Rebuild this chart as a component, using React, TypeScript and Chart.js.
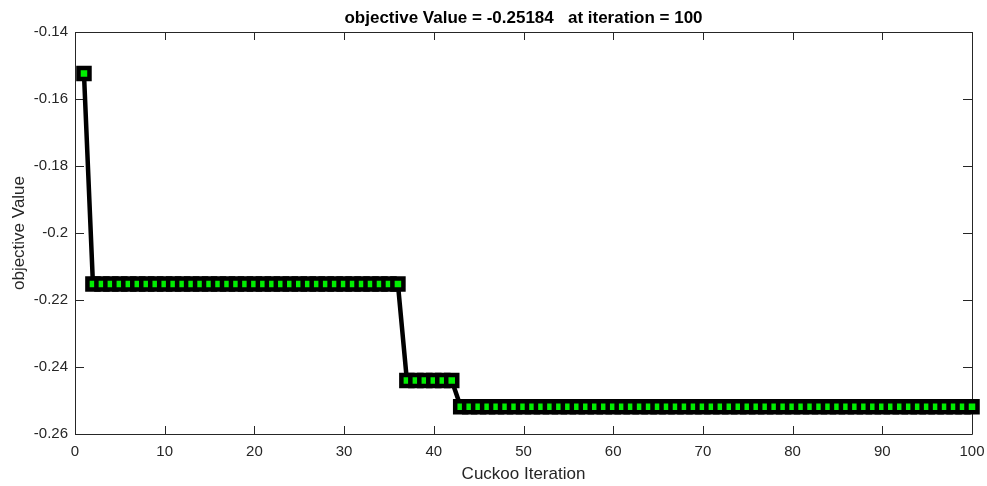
import React, { useEffect, useRef } from "react";
import { Chart, registerables } from "chart.js";

Chart.register(...registerables);

const iterations = [
  1, 2, 3, 4, 5, 6, 7, 8, 9, 10,
  11, 12, 13, 14, 15, 16, 17, 18, 19, 20,
  21, 22, 23, 24, 25, 26, 27, 28, 29, 30,
  31, 32, 33, 34, 35, 36, 37, 38, 39, 40,
  41, 42, 43, 44, 45, 46, 47, 48, 49, 50,
  51, 52, 53, 54, 55, 56, 57, 58, 59, 60,
  61, 62, 63, 64, 65, 66, 67, 68, 69, 70,
  71, 72, 73, 74, 75, 76, 77, 78, 79, 80,
  81, 82, 83, 84, 85, 86, 87, 88, 89, 90,
  91, 92, 93, 94, 95, 96, 97, 98, 99, 100,
];

const objectiveValues = [
  -0.1524, -0.2152, -0.2152, -0.2152, -0.2152, -0.2152, -0.2152, -0.2152, -0.2152, -0.2152,
  -0.2152, -0.2152, -0.2152, -0.2152, -0.2152, -0.2152, -0.2152, -0.2152, -0.2152, -0.2152,
  -0.2152, -0.2152, -0.2152, -0.2152, -0.2152, -0.2152, -0.2152, -0.2152, -0.2152, -0.2152,
  -0.2152, -0.2152, -0.2152, -0.2152, -0.2152, -0.2152, -0.244, -0.244, -0.244, -0.244,
  -0.244, -0.244, -0.25184, -0.25184, -0.25184, -0.25184, -0.25184, -0.25184, -0.25184, -0.25184,
  -0.25184, -0.25184, -0.25184, -0.25184, -0.25184, -0.25184, -0.25184, -0.25184, -0.25184, -0.25184,
  -0.25184, -0.25184, -0.25184, -0.25184, -0.25184, -0.25184, -0.25184, -0.25184, -0.25184, -0.25184,
  -0.25184, -0.25184, -0.25184, -0.25184, -0.25184, -0.25184, -0.25184, -0.25184, -0.25184, -0.25184,
  -0.25184, -0.25184, -0.25184, -0.25184, -0.25184, -0.25184, -0.25184, -0.25184, -0.25184, -0.25184,
  -0.25184, -0.25184, -0.25184, -0.25184, -0.25184, -0.25184, -0.25184, -0.25184, -0.25184, -0.25184,
];

const xTicks = [0, 10, 20, 30, 40, 50, 60, 70, 80, 90, 100];
const yTicks = [-0.26, -0.24, -0.22, -0.2, -0.18, -0.16, -0.14];

const titleText = "objective Value = -0.25184   at iteration = 100";
const xTitle = "Cuckoo Iteration";
const yTitle = "objective Value";

const FONT = "'Liberation Sans', Arial, Helvetica, sans-serif";
const AXIS_COLOR = "#262626";

const boxPlugin = {
  id: "matlabBox",
  beforeDatasetsDraw(chart: any) {
    const { ctx, chartArea, scales } = chart;
    const { left, right, top, bottom } = chartArea;
    ctx.save();
    ctx.strokeStyle = AXIS_COLOR;
    ctx.lineWidth = 1;
    ctx.beginPath();
    ctx.rect(Math.round(left) + 0.5, Math.round(top) + 0.5, Math.round(right - left), Math.round(bottom - top));
    ctx.stroke();
    ctx.beginPath();
    for (const v of xTicks) {
      const x = Math.round(scales.x.getPixelForValue(v)) + 0.5;
      ctx.moveTo(x, bottom);
      ctx.lineTo(x, bottom - 8);
      ctx.moveTo(x, top);
      ctx.lineTo(x, top + 8);
    }
    for (const v of yTicks) {
      const y = Math.round(scales.y.getPixelForValue(v)) + 0.5;
      ctx.moveTo(left, y);
      ctx.lineTo(left + 9, y);
      ctx.moveTo(right, y);
      ctx.lineTo(right - 9, y);
    }
    ctx.stroke();
    ctx.restore();
  },
  afterDraw(chart: any) {
    const { ctx, chartArea } = chart;
    ctx.save();
    ctx.fillStyle = "#000";
    ctx.font = `bold 17px ${FONT}`;
    ctx.textAlign = "center";
    ctx.textBaseline = "middle";
    ctx.fillText(titleText, (chartArea.left + chartArea.right) / 2, 18);
    ctx.restore();
  },
};

export default function App() {
  const canvasRef = useRef<HTMLCanvasElement | null>(null);

  useEffect(() => {
    document.body.style.margin = "0";
    const canvas = canvasRef.current;
    if (!canvas) return;
    const chart = new Chart(canvas, {
      type: "line",
      data: {
        datasets: [
          {
            data: iterations.map((x, i) => ({ x, y: objectiveValues[i] })),
            borderColor: "#000",
            borderWidth: 4.5,
            tension: 0,
            pointStyle: "rect",
            pointRadius: 7.8,
            pointHoverRadius: 7.8,
            pointBorderWidth: 4.5,
            pointBorderColor: "#000",
            pointBackgroundColor: "#00ee00",
            clip: false,
          } as any,
        ],
      },
      options: {
        responsive: false,
        animation: false,
        events: [],
        layout: { padding: { top: 32, right: 15, left: 0, bottom: 0 } },
        plugins: {
          legend: { display: false },
          title: { display: false },
          tooltip: { enabled: false },
        },
        scales: {
          x: {
            type: "linear",
            min: 0,
            max: 100,
            afterFit: (s: any) => {
              s.height = 52;
              s.paddingLeft = 0;
              s.paddingRight = 0;
            },
            afterBuildTicks: (s: any) => {
              s.ticks = xTicks.map((v) => ({ value: v }));
            },
            grid: { display: false, drawTicks: false },
            border: { display: false },
            ticks: {
              padding: 9,
              color: AXIS_COLOR,
              font: { family: FONT, size: 15 },
              maxRotation: 0,
              callback: (v: any) => String(v),
            },
            title: {
              display: true,
              text: xTitle,
              color: AXIS_COLOR,
              font: { family: FONT, size: 17 },
              padding: { top: 0, bottom: 1 },
            },
          },
          y: {
            type: "linear",
            min: -0.26,
            max: -0.14,
            afterFit: (s: any) => {
              s.width = 75;
              s.paddingTop = 0;
              s.paddingBottom = 0;
            },
            afterBuildTicks: (s: any) => {
              s.ticks = yTicks.map((v) => ({ value: v }));
            },
            grid: { display: false, drawTicks: false },
            border: { display: false },
            ticks: {
              padding: 7,
              color: AXIS_COLOR,
              font: { family: FONT, size: 15 },
              callback: (v: any) => String(parseFloat(Number(v).toFixed(4))),
            },
            title: {
              display: true,
              text: yTitle,
              color: AXIS_COLOR,
              font: { family: FONT, size: 17 },
              padding: { top: 9, bottom: 0 },
            },
          },
        },
      },
      plugins: [boxPlugin],
    });
    return () => chart.destroy();
  }, []);

  return (
    <div style={{ width: 987, height: 486, background: "#fff" }}>
      <canvas ref={canvasRef} width={987} height={486} style={{ display: "block" }} />
    </div>
  );
}
